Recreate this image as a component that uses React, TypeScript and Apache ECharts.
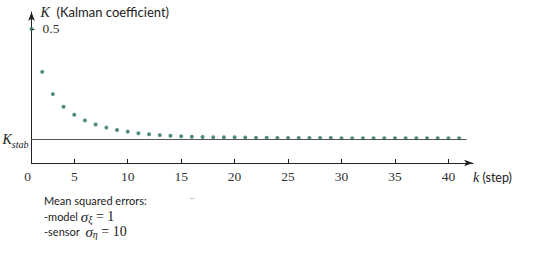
import React, { useEffect, useRef } from "react";
import * as echarts from "echarts";

const steps = [1, 2, 3, 4, 5, 6, 7, 8, 9, 10, 11, 12, 13, 14, 15, 16, 17, 18, 19, 20, 21, 22, 23, 24, 25, 26, 27, 28, 29, 30, 31, 32, 33, 34, 35, 36, 37, 38, 39, 40, 41];
const gain = [0.5, 0.34, 0.257, 0.21, 0.18, 0.159, 0.144, 0.132, 0.123, 0.117, 0.111, 0.107, 0.104, 0.102, 0.1, 0.098, 0.097, 0.096, 0.096, 0.096, 0.095, 0.094, 0.094, 0.093, 0.093, 0.093, 0.093, 0.093, 0.093, 0.092, 0.092, 0.092, 0.092, 0.092, 0.092, 0.092, 0.092, 0.092, 0.092, 0.092, 0.092];
const kStab = 0.09;
const xTickValues = [5, 10, 15, 20, 25, 30, 35, 40];
const xLabelValues = [1, 5, 10, 15, 20, 25, 30, 35, 40];
const yLabelValues = [0.5];
const xMin = 1;
const xMax = 42.3;
const yMin = 0;
const yMax = 0.5634;
const lineEnd = 41.7;

const SERIF = "Liberation Serif";
const SANS = "Lato";

export default function App() {
  const ref = useRef<HTMLDivElement>(null);
  useEffect(() => {
    if (!ref.current) return;
    const chart = echarts.init(ref.current, undefined, { renderer: "svg" });
    chart.setOption({
      animation: false,
      backgroundColor: "#ffffff",
      grid: { left: 31.5, right: 67, top: 12, bottom: 106, containLabel: false },
      xAxis: {
        type: "value",
        min: xMin,
        max: xMax,
        name: "{k|k}{t| (step)}",
        nameLocation: "end",
        nameGap: 0,
        nameTextStyle: {
          align: "left",
          verticalAlign: "top",
          padding: [7, 0, 0, 0],
          rich: {
            k: { fontFamily: SERIF, fontStyle: "italic", fontSize: 14, color: "#222" },
            t: { fontFamily: SANS, fontSize: 12.5, color: "#222" },
          },
        },
        axisLine: {
          show: true,
          lineStyle: { color: "#222", width: 1 },
          symbol: ["none", "arrow"],
          symbolSize: [5, 9],
        },
        axisTick: { show: true, inside: true, length: 4, customValues: xTickValues, lineStyle: { color: "#222" } },
        axisLabel: {
          show: true,
          customValues: xLabelValues,
          margin: 6,
          fontFamily: SERIF,
          fontSize: 13.5,
          color: "#333",
          formatter: (v: number) => (v === 1 ? "{o|0}" : String(v)),
          rich: { o: { fontFamily: SERIF, fontSize: 13.5, color: "#333", padding: [0, 8, 0, 0] } },
        },
        splitLine: { show: false },
      },
      yAxis: {
        type: "value",
        min: yMin,
        max: yMax,
        name: "{k|K}{t|  (Kalman coefficient)}",
        nameLocation: "end",
        nameGap: 0,
        nameTextStyle: {
          align: "left",
          verticalAlign: "middle",
          padding: [0, 0, 0, 9],
          rich: {
            k: { fontFamily: SERIF, fontStyle: "italic", fontSize: 14, color: "#222" },
            t: { fontFamily: SANS, fontSize: 13, color: "#222" },
          },
        },
        axisLine: {
          show: true,
          lineStyle: { color: "#222", width: 1 },
          symbol: ["none", "arrow"],
          symbolSize: [5, 9],
        },
        axisTick: { show: true, inside: true, length: 3, customValues: yLabelValues, lineStyle: { color: "#222" } },
        axisLabel: {
          show: true,
          inside: true,
          customValues: yLabelValues,
          margin: 11,
          fontFamily: SERIF,
          fontSize: 13.5,
          color: "#333",
        },
        splitLine: { show: false },
      },
      series: [
        {
          type: "scatter",
          data: steps.map((k, i) => [k, gain[i]]),
          symbol: "circle",
          symbolSize: 4,
          itemStyle: { color: "#237060" },
          silent: true,
          markLine: {
            silent: true,
            symbol: "none",
            lineStyle: { color: "#555", width: 1, type: "solid" },
            label: {
              show: true,
              position: "start",
              distance: 3,
              formatter: "{k|K}{s|stab}",
              rich: {
                k: { fontFamily: SERIF, fontStyle: "italic", fontSize: 14, color: "#222", verticalAlign: "bottom", lineHeight: 15 },
                s: { fontFamily: SERIF, fontStyle: "italic", fontSize: 10, color: "#222", verticalAlign: "bottom", lineHeight: 11, padding: [0, 0, -3, 0] },
              },
            },
            data: [[{ coord: [xMin, kStab] }, { coord: [lineEnd, kStab] }]],
          },
        },
      ],
      graphic: [
        {
          type: "text",
          left: 44,
          top: 195,
          style: { text: "Mean squared errors:", font: "11px Lato", fill: "#222" },
        },
        {
          type: "text",
          left: 190,
          top: 194,
          style: { text: "··", font: "8px Lato", fill: "#999" },
        },
        {
          type: "text",
          left: 44,
          top: 209,
          style: {
            text: "-model {s|σ}{sub|ξ}{e| = 1}",
            font: "11px Lato",
            fill: "#222",
            rich: {
              s: { fontFamily: SERIF, fontStyle: "italic", fontSize: 15, fill: "#222" },
              sub: { fontFamily: SERIF, fontStyle: "italic", fontSize: 10, fill: "#222", padding: [0, 0, -6, 0] },
              e: { fontFamily: SERIF, fontSize: 14, fill: "#222" },
            },
          },
        },
        {
          type: "text",
          left: 44,
          top: 224,
          style: {
            text: "-sensor  {s|σ}{sub|η}{e| = 10}",
            font: "11px Lato",
            fill: "#222",
            rich: {
              s: { fontFamily: SERIF, fontStyle: "italic", fontSize: 15, fill: "#222" },
              sub: { fontFamily: SERIF, fontStyle: "italic", fontSize: 10, fill: "#222", padding: [0, 0, -6, 0] },
              e: { fontFamily: SERIF, fontSize: 14, fill: "#222" },
            },
          },
        },
      ],
    });
    return () => chart.dispose();
  }, []);
  return <div ref={ref} style={{ position: "absolute", left: 0, top: 0, width: 540, height: 269 }} />;
}
